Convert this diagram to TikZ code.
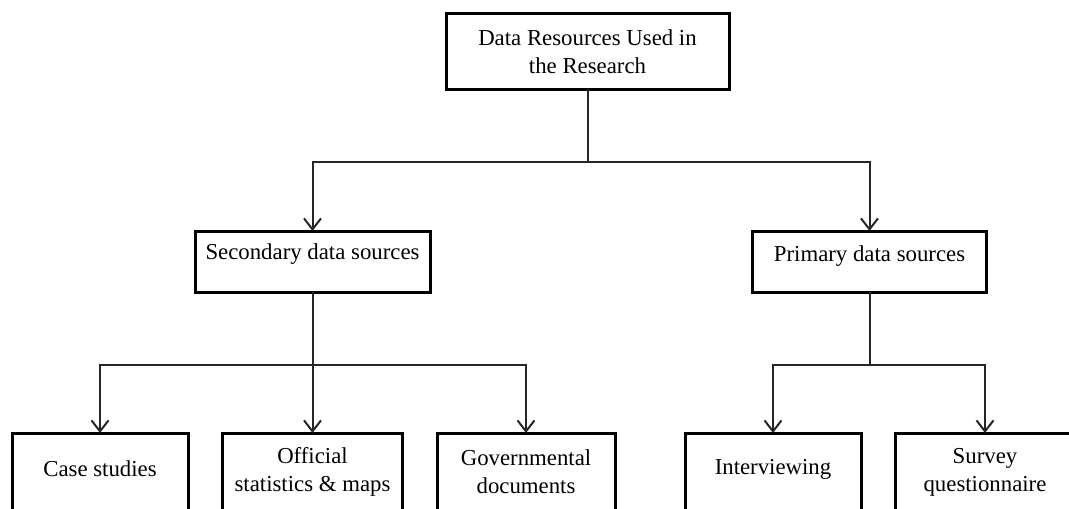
\documentclass[tikz,border=0pt]{standalone}
\usepackage{fontspec}
\setmainfont{Liberation Serif}
\usetikzlibrary{arrows.meta}
\begin{document}
\begin{tikzpicture}[x=1pt,y=-1pt,
  box/.style={draw=black, line width=3pt, inner sep=0pt, outer sep=0pt,
              minimum width=#1},
  txt/.style={align=center, inner sep=0pt, font=\fontsize{22.8}{28}\selectfont,
              text=black},
  conn/.style={draw=black!85, line width=2pt},
  arr/.style={conn, -{Straight Barb[length=11pt,width=17pt]}}]
\useasboundingbox (0,0) rectangle (1069,509);
\clip (0,0) rectangle (1069,509);

% boxes
\node[box=283, minimum height=76] (top) at (587.5,51) {};
\node[box=235, minimum height=61] (sec) at (312.5,261.5) {};
\node[box=234, minimum height=61] (pri) at (869.5,261.5) {};
\node[box=176, minimum height=100] (case) at (100,483) {};
\node[box=180, minimum height=100] (offi) at (312.5,483) {};
\node[box=178, minimum height=100] (gov) at (526,483) {};
\node[box=176, minimum height=100] (intv) at (773,483) {};
\node[box=180, minimum height=100] (surv) at (985,483) {};

% labels
\node[txt] (topT) at (587.5,52) {Data Resources Used in\\the Research};
\node[txt] (secT) at (312.5,254) {Secondary data sources};
\node[txt] (priT) at (869.5,256) {Primary data sources};
\node[txt] (caseT) at (100,469) {Case studies};
\node[txt] (offiT) at (312.5,472) {Official\\statistics \& maps};
\node[txt] (govT) at (526,472) {Governmental\\documents};
\node[txt] (intvT) at (773,469) {Interviewing};
\node[txt] (survT) at (985,472) {Survey\\questionnaire};

% junctions
\coordinate (j1) at (587.5,162);
\coordinate (j2) at (312.5,365);
\coordinate (j3) at (869.5,365);

% connectors
\draw[conn] (top.south) -- (j1);
\draw[arr] (j1) -| (sec.north);
\draw[arr] (j1) -| (pri.north);

\draw[conn] (sec.south) -- (j2);
\draw[arr] (j2) -| (case.north);
\draw[arr] (j2) -- (offi.north);
\draw[arr] (j2) -| (gov.north);

\draw[conn] (pri.south) -- (j3);
\draw[arr] (j3) -| (intv.north);
\draw[arr] (j3) -| (surv.north);
\end{tikzpicture}
\end{document}
